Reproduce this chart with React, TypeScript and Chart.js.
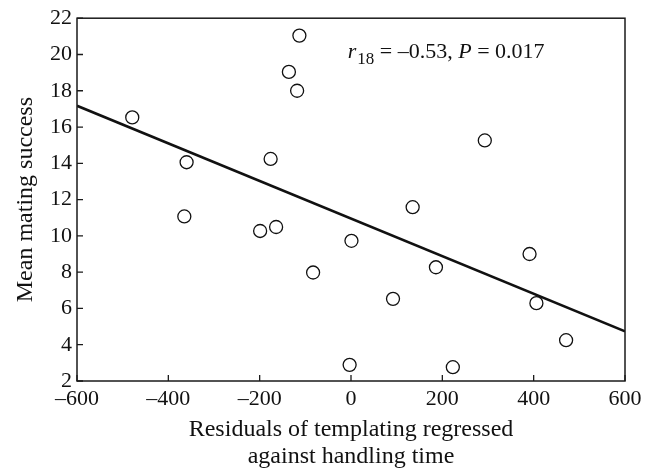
import { useEffect, useRef } from "react";
import { Chart, registerables } from "chart.js";

Chart.register(...registerables);

// Residuals of templating regressed against handling time (x) vs mean mating success (y)
const residuals = [
  -479, -360, -365, -176, -113, -136, -118, -199, -164, -83,
  1, -3, 92, 135, 186, 223, 293, 391, 406, 471,
];
const matingSuccess = [
  16.53, 14.06, 11.07, 14.24, 21.04, 19.04, 18.0, 10.27, 10.49, 7.98,
  9.73, 2.89, 6.53, 11.58, 8.27, 2.76, 15.26, 9.0, 6.29, 4.25,
];
const fitX = [-600, 600];
const fitY = [17.17, 4.74];
const xTicks = [-600, -400, -200, 0, 200, 400, 600];
const yTicks = [2, 4, 6, 8, 10, 12, 14, 16, 18, 20, 22];
const statLabel = { r: "r", sub: "18", mid: " = –0.53, ", p: "P", end: " = 0.017" };
const statAnchor = { x: -7, y: 19.8 };

const FONT = "'Liberation Serif', 'Times New Roman', serif";

const fmt = (v: number) => (v < 0 ? "–" + Math.abs(v) : String(v));

const framePlugin = {
  id: "frameTicks",
  afterDraw(chart: any) {
    const { ctx, chartArea, scales } = chart;
    const { left, right, top, bottom } = chartArea;
    ctx.save();
    ctx.strokeStyle = "#1a1a1a";
    ctx.lineWidth = 1.5;
    ctx.strokeRect(left, top, right - left, bottom - top);
    ctx.lineWidth = 1.3;
    ctx.beginPath();
    for (const v of xTicks) {
      const px = scales.x.getPixelForValue(v);
      ctx.moveTo(px, bottom);
      ctx.lineTo(px, bottom - 6);
    }
    for (const v of yTicks) {
      const py = scales.y.getPixelForValue(v);
      ctx.moveTo(left, py);
      ctx.lineTo(left + 6, py);
    }
    ctx.stroke();

    // statistics annotation
    let x = scales.x.getPixelForValue(statAnchor.x);
    const y = scales.y.getPixelForValue(statAnchor.y);
    ctx.fillStyle = "#111";
    ctx.textBaseline = "alphabetic";
    ctx.textAlign = "left";
    ctx.font = `italic 22px ${FONT}`;
    ctx.fillText(statLabel.r, x, y);
    x += ctx.measureText(statLabel.r).width + 1;
    ctx.font = `17px ${FONT}`;
    ctx.fillText(statLabel.sub, x, y + 6);
    x += ctx.measureText(statLabel.sub).width;
    ctx.font = `22px ${FONT}`;
    ctx.fillText(statLabel.mid, x, y);
    x += ctx.measureText(statLabel.mid).width;
    ctx.font = `italic 22px ${FONT}`;
    ctx.fillText(statLabel.p, x, y);
    x += ctx.measureText(statLabel.p).width;
    ctx.font = `22px ${FONT}`;
    ctx.fillText(statLabel.end, x, y);
    ctx.restore();
  },
};

export default function App() {
  const ref = useRef<HTMLCanvasElement>(null);

  useEffect(() => {
    if (!ref.current) return;
    const chart = new Chart(ref.current, {
      type: "scatter",
      data: {
        datasets: [
          {
            type: "scatter",
            data: residuals.map((x, i) => ({ x, y: matingSuccess[i] })),
            pointStyle: "circle",
            pointRadius: 6.5,
            pointBorderWidth: 1.3,
            pointBorderColor: "#111",
            pointBackgroundColor: "#fff",
            order: 0,
          },
          {
            type: "line",
            data: fitX.map((x, i) => ({ x, y: fitY[i] })),
            borderColor: "#111",
            borderWidth: 2.6,
            pointRadius: 0,
            fill: false,
            order: 1,
          },
        ],
      },
      options: {
        responsive: false,
        animation: false,
        layout: { padding: { left: 0, top: 15, right: 36, bottom: 0 } },
        plugins: { legend: { display: false }, tooltip: { enabled: false } },
        scales: {
          x: {
            type: "linear",
            min: -600,
            max: 600,
            afterFit: (s: any) => {
              s.height = 90;
            },
            afterBuildTicks: (s: any) => {
              s.ticks = xTicks.map((v) => ({ value: v }));
            },
            grid: { display: false, drawTicks: false },
            border: { display: false },
            ticks: {
              color: "#111",
              padding: 5,
              font: { family: FONT, size: 22 },
              callback: (v: any) => fmt(Number(v)),
              maxRotation: 0,
            },
            title: {
              display: true,
              text: ["Residuals of templating regressed", "against handling time"],
              color: "#111",
              font: { family: FONT, size: 24, lineHeight: "27px" },
              padding: { top: 0, bottom: 1 },
            },
          },
          y: {
            type: "linear",
            min: 2,
            max: 22,
            afterFit: (s: any) => {
              s.width = 77;
            },
            afterBuildTicks: (s: any) => {
              s.ticks = yTicks.map((v) => ({ value: v }));
            },
            grid: { display: false, drawTicks: false },
            border: { display: false },
            ticks: {
              color: "#111",
              padding: 5,
              font: { family: FONT, size: 22 },
              callback: (v: any) => fmt(Number(v)),
            },
            title: {
              display: true,
              text: "Mean mating success",
              color: "#111",
              font: { family: FONT, size: 24, lineHeight: 1.2 },
              padding: { top: 11, bottom: 0 },
            },
          },
        },
      },
      plugins: [framePlugin],
    });
    return () => chart.destroy();
  }, []);

  return (
    <canvas
      ref={ref}
      width={661}
      height={471}
      style={{ position: "absolute", left: 0, top: 0, display: "block", background: "#fff" }}
    />
  );
}
